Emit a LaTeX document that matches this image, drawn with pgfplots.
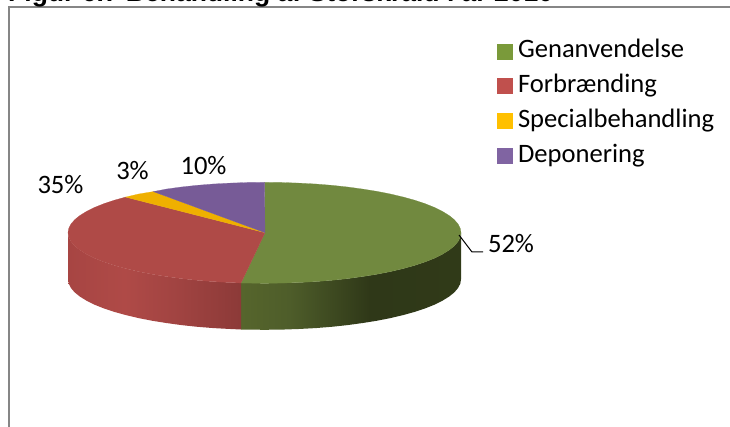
\documentclass[border=0pt]{standalone}
\usepackage{fontspec}
\usepackage{pgfplots}
\pgfplotsset{compat=1.18}
\setmainfont{Carlito}
\newfontfamily\titlefont{Liberation Sans}[BoldFont={Liberation Sans Bold}]
\definecolor{topG}{RGB}{113,137,63}
\definecolor{topR}{RGB}{175,74,71}
\definecolor{topY}{RGB}{239,176,0}
\definecolor{topP}{RGB}{119,91,151}
\definecolor{legG}{RGB}{122,154,58}
\definecolor{legR}{RGB}{192,80,77}
\definecolor{legY}{RGB}{255,192,0}
\definecolor{legP}{RGB}{128,100,162}
\definecolor{framegray}{RGB}{134,134,134}
\definecolor{sg1}{RGB}{86,101,44}
\definecolor{sg2}{RGB}{78,93,42}
\definecolor{sg3}{RGB}{47,56,24}
\definecolor{sg4}{RGB}{48,58,24}
\definecolor{sr1}{RGB}{167,69,67}
\definecolor{sr2}{RGB}{175,74,71}
\definecolor{sr3}{RGB}{160,67,65}
\definecolor{sr4}{RGB}{140,58,56}
\pgfdeclarehorizontalshading{sideGreen}{100bp}{
  color(0bp)=(sg1); color(25bp)=(sg1); color(36bp)=(sg2); color(54.3bp)=(sg3); color(75bp)=(sg4); color(100bp)=(sg4)}
\pgfdeclarehorizontalshading{sideRed}{100bp}{
  color(0bp)=(sr1); color(25bp)=(sr1); color(41.5bp)=(sr2); color(57.4bp)=(sr3); color(75bp)=(sr4); color(100bp)=(sr4)}
\begin{document}
\begin{tikzpicture}
\path[clip,use as bounding box] (0,0) rectangle (730pt,427pt);
\begin{axis}[
  at={(0,0)}, anchor=south west,
  scale only axis, width=730pt, height=427pt,
  xmin=0, xmax=730, ymin=0, ymax=427, y dir=reverse,
  hide axis, clip=false,
  legend style={at={(axis cs:497,41)}, anchor=north west, draw=none, fill=none,
    inner sep=0pt, outer sep=0pt, row sep=12.3pt,
    font=\fontsize{26.6}{30}\selectfont,
    nodes={inner sep=0pt, text height=17pt, text depth=5.5pt},
    /tikz/every odd column/.append style={column sep=6pt}},
  legend image post style={yshift=1pt},
  legend cell align=left,
]
\addlegendimage{only marks, mark=square*, mark size=7.5pt, mark options={draw=legG, fill=legG}}
\addlegendentry{Genanvendelse}
\addlegendimage{only marks, mark=square*, mark size=7.5pt, mark options={draw=legR, fill=legR}}
\addlegendentry{Forbrænding}
\addlegendimage{only marks, mark=square*, mark size=7.5pt, mark options={draw=legY, fill=legY}}
\addlegendentry{Specialbehandling}
\addlegendimage{only marks, mark=square*, mark size=7.5pt, mark options={draw=legP, fill=legP}}
\addlegendentry{Deponering}

% frame
\addplot[forget plot, framegray, line width=2pt] coordinates {(9,427)(9,6.8)(730,6.8)};

% green side
\addplot[forget plot, shading=sideGreen, draw=none] coordinates {
(461.0,232.8)(460.3,237.2)(458.0,241.6)(454.3,245.9)(449.1,250.1)(442.6,254.1)(434.7,258.1)(425.4,261.8)(415.0,265.3)(403.5,268.5)(390.8,271.5)(377.2,274.2)(362.8,276.5)(347.6,278.6)(331.7,280.3)(315.5,281.6)(298.7,282.5)(281.7,283.1)(264.5,283.3)(247.3,283.1)(241.0,283.0)
(241.0,329.5)(247.3,329.6)(264.5,329.8)(281.7,329.6)(298.7,329.0)(315.5,328.1)(331.7,326.8)(347.6,325.1)(362.8,323.0)(377.2,320.7)(390.8,318.0)(403.5,315.0)(415.0,311.8)(425.4,308.3)(434.7,304.6)(442.6,300.6)(449.1,296.6)(454.3,292.4)(458.0,288.1)(460.3,283.7)(461.0,279.3)(461.0,232.8)
} -- cycle;

% red side
\addplot[forget plot, shading=sideRed, draw=none] coordinates {
(241.0,283.0)(230.3,282.5)(213.5,281.6)(197.3,280.3)(181.4,278.6)(166.2,276.5)(151.8,274.2)(138.2,271.5)(125.5,268.5)(114.0,265.3)(103.6,261.8)(94.3,258.1)(86.4,254.1)(79.9,250.1)(74.7,245.9)(71.0,241.6)(68.7,237.2)(68.0,232.8)
(68.0,279.3)(68.7,283.7)(71.0,288.1)(74.7,292.4)(79.9,296.6)(86.4,300.6)(94.3,304.6)(103.6,308.3)(114.0,311.8)(125.5,315.0)(138.2,318.0)(151.8,320.7)(166.2,323.0)(181.4,325.1)(197.3,326.8)(213.5,328.1)(230.3,329.0)(241.0,329.5)(241.0,283.0)
} -- cycle;

% top faces
\addplot[forget plot, fill=topG, draw=topG, line width=0.2pt] coordinates {
(265,232.7)(264.5,182.3)(281.7,182.5)(298.7,183.1)(315.5,184.0)(331.7,185.3)(347.6,187.0)(362.8,189.1)(377.2,191.4)(390.8,194.1)(403.5,197.1)(415.0,200.3)(425.4,203.8)(434.7,207.5)(442.6,211.5)(449.1,215.5)(454.3,219.7)(458.0,224.0)(460.3,228.4)(461.0,232.8)(460.3,237.2)(458.0,241.6)(454.3,245.9)(449.1,250.1)(442.6,254.1)(434.7,258.1)(425.4,261.8)(415.0,265.3)(403.5,268.5)(390.8,271.5)(377.2,274.2)(362.8,276.5)(347.6,278.6)(331.7,280.3)(315.5,281.6)(298.7,282.5)(281.7,283.1)(264.5,283.3)(247.3,283.1)(241.0,283.0)(265,232.7)
} -- cycle;
\addplot[forget plot, fill=topR, draw=topR, line width=0.2pt] coordinates {
(265,232.7)(241.0,283.0)(230.3,282.5)(213.5,281.6)(197.3,280.3)(181.4,278.6)(166.2,276.5)(151.8,274.2)(138.2,271.5)(125.5,268.5)(114.0,265.3)(103.6,261.8)(94.3,258.1)(86.4,254.1)(79.9,250.1)(74.7,245.9)(71.0,241.6)(68.7,237.2)(68.0,232.8)(68.7,228.4)(71.0,224.0)(74.7,219.7)(79.9,215.5)(86.4,211.5)(94.3,207.5)(103.6,203.8)(114.0,200.3)(125.5,197.1)(265,232.7)
} -- cycle;
\addplot[forget plot, fill=topY, draw=topY, line width=0.2pt] coordinates {
(265,232.7)(125.5,197.1)(138.2,194.1)(153.3,191.6)(265,232.7)
} -- cycle;
\addplot[forget plot, fill=topP, draw=topP, line width=0.2pt] coordinates {
(265,232.7)(153.3,191.6)(166.2,189.1)(181.4,187.0)(197.3,185.3)(213.5,184.0)(230.3,183.1)(247.3,182.5)(264.5,182.3)(265,232.7)
} -- cycle;

% leader line
\addplot[forget plot, black, line width=1pt] coordinates {(459,235)(472,252)(483,252)};

% labels
\path[font=\fontsize{26.6}{30}\selectfont]
  node[anchor=base] at (axis cs:511,252.5) {52\%}
  node[anchor=base] at (axis cs:60.5,194) {35\%}
  node[anchor=base] at (axis cs:132.5,180) {3\%}
  node[anchor=base] at (axis cs:203.5,175) {10\%};
\node[anchor=base west, inner sep=0pt, font=\titlefont\bfseries\fontsize{26.5}{30}\selectfont] at (axis cs:8,1.8)
  {Figur 6.7 Behandling af Storskrald i år 2010};
\end{axis}
\end{tikzpicture}
\end{document}
